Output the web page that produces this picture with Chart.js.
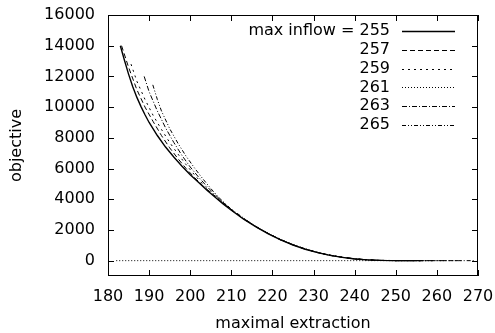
<!DOCTYPE html>
<html>
<head>
<meta charset="utf-8">
<script src="https://cdn.jsdelivr.net/npm/chart.js@4"></script>
<style>
  body { margin: 0; background: #fff; }
  #chart { display: block; }
</style>
</head>
<body>
<canvas id="chart" width="495" height="333"></canvas>
<script>
// data: maximal extraction (x) vs objective (y)
const inflows = [255, 257, 259, 261, 263, 265];

const ext255 = [183, 184, 185, 186, 187, 188, 189, 190, 192, 194, 196, 198, 200, 202, 204, 206, 208, 210, 213, 216, 219, 222, 225, 228, 231, 234, 237, 240, 243, 246, 250, 256];
const obj255 = [14000, 13050, 12150, 11350, 10650, 10050, 9500, 9000, 8150, 7400, 6750, 6150, 5600, 5100, 4600, 4150, 3700, 3280, 2700, 2200, 1750, 1350, 1020, 740, 520, 340, 210, 110, 50, 15, 0, 0];

const ext257 = [183.3, 185, 187, 189, 191, 193, 195, 197, 199, 201, 203, 206, 210, 216, 222, 228, 234, 240, 246, 250, 258];
const obj257 = [14000, 12600, 11150, 10000, 9050, 8150, 7350, 6650, 6000, 5420, 4900, 4200, 3290, 2200, 1350, 740, 340, 110, 15, 0, 0];

const ext259 = [185.6, 187, 189, 191, 193, 195, 197, 199, 201, 203, 205, 208, 213, 219, 225, 231, 237, 243, 250, 260];
const obj259 = [12800, 11700, 10500, 9450, 8550, 7700, 6950, 6250, 5600, 5000, 4450, 3750, 2700, 1750, 1020, 520, 210, 50, 0, 0];

const ext261 = [182, 262];
const obj261 = [0, 0];

const ext263 = [188.8, 190, 192, 194, 196, 198, 200, 202, 204, 206, 209, 213, 219, 225, 231, 237, 243, 250, 266];
const obj263 = [12000, 11000, 9750, 8650, 7700, 6850, 6100, 5450, 4850, 4300, 3550, 2700, 1750, 1020, 520, 210, 50, 0, 0];

const ext265 = [190.9, 192, 193, 195, 197, 199, 201, 203, 205, 207, 210, 216, 222, 228, 234, 240, 246, 250, 269];
const obj265 = [11450, 10500, 9750, 8600, 7650, 6800, 6050, 5350, 4700, 4100, 3350, 2200, 1350, 740, 340, 110, 15, 0, 0];

const xTicks = [180, 190, 200, 210, 220, 230, 240, 250, 260, 270];
const yTicks = [0, 2000, 4000, 6000, 8000, 10000, 12000, 14000, 16000];

const allExt = [ext255, ext257, ext259, ext261, ext263, ext265];
const allObj = [obj255, obj257, obj259, obj261, obj263, obj265];
const dashes = [[], [5, 3], [2, 4], [1, 2], [5, 2, 1, 2], [4, 2, 1, 2, 1, 2]];
const widths = [1.4, 1, 1, 1, 1, 1];

const font = { family: 'DejaVu Sans, sans-serif', size: 16 };

const datasets = inflows.map((v, i) => ({
  label: (i === 0 ? 'max inflow = ' : '') + v,
  data: allExt[i].map((x, j) => ({ x: x, y: allObj[i][j] })),
  showLine: true,
  borderColor: '#000',
  borderWidth: widths[i],
  borderDash: dashes[i],
  pointRadius: 0,
  fill: false,
  tension: 0
}));

// gnuplot style frame with ticks pointing inwards, on all four sides
const framePlugin = {
  id: 'frame',
  afterDraw(chart) {
    const c = chart.ctx;
    const a = chart.chartArea;
    const xs = chart.scales.x, ys = chart.scales.y;
    c.save();
    c.strokeStyle = '#000';
    c.lineWidth = 1;
    c.setLineDash([]);
    c.strokeRect(a.left + 0.5, a.top + 0.5, a.right - a.left - 1, a.bottom - a.top - 1);
    c.beginPath();
    xTicks.forEach(t => {
      const px = Math.round(xs.getPixelForValue(t)) + 0.5;
      c.moveTo(px, a.bottom); c.lineTo(px, a.bottom - 6);
      c.moveTo(px, a.top); c.lineTo(px, a.top + 6);
    });
    yTicks.forEach(t => {
      const py = Math.round(ys.getPixelForValue(t)) + 0.5;
      c.moveTo(a.left, py); c.lineTo(a.left + 6, py);
      c.moveTo(a.right, py); c.lineTo(a.right - 6, py);
    });
    c.stroke();
    c.restore();
  }
};

// key in the top right corner, text right aligned, sample line after it
const keyPlugin = {
  id: 'key',
  afterDraw(chart) {
    const c = chart.ctx;
    const a = chart.chartArea;
    c.save();
    c.font = font.size + 'px ' + font.family;
    c.textAlign = 'right';
    c.textBaseline = 'middle';
    c.fillStyle = '#000';
    chart.data.datasets.forEach((ds, i) => {
      const y = a.top + 16 + i * 18.8;
      c.fillText(ds.label, a.right - 88, y);
      c.beginPath();
      c.strokeStyle = '#000';
      c.lineWidth = ds.borderWidth;
      c.setLineDash(ds.borderDash);
      c.moveTo(a.right - 76, Math.round(y) + 0.5);
      c.lineTo(a.right - 23, Math.round(y) + 0.5);
      c.stroke();
    });
    c.restore();
  }
};

new Chart(document.getElementById('chart'), {
  type: 'scatter',
  data: { datasets: datasets },
  options: {
    responsive: false,
    animation: false,
    devicePixelRatio: 1,
    layout: { padding: { top: 15, right: 17, left: 0, bottom: 0 } },
    plugins: {
      legend: { display: false },
      tooltip: { enabled: false }
    },
    scales: {
      x: {
        type: 'linear',
        min: 180,
        max: 270,
        afterBuildTicks: s => { s.ticks = xTicks.map(v => ({ value: v })); },
        afterFit: s => { s.height = 57; s.paddingLeft = 0; s.paddingRight = 0; },
        grid: { display: false, drawTicks: false },
        border: { display: false },
        ticks: { color: '#000', font: font, padding: 11, maxRotation: 0, callback: v => String(v) },
        title: { display: true, text: 'maximal extraction', color: '#000', font: font, padding: 0 }
      },
      y: {
        type: 'linear',
        min: -1000,
        max: 16000,
        afterBuildTicks: s => { s.ticks = yTicks.map(v => ({ value: v })); },
        afterFit: s => { s.width = 108; s.paddingTop = 0; s.paddingBottom = 0; },
        grid: { display: false, drawTicks: false },
        border: { display: false },
        ticks: { color: '#000', font: font, padding: 13, callback: v => String(v) },
        title: { display: true, text: 'objective', color: '#000', font: font, padding: { top: 7, bottom: 0 } }
      }
    }
  },
  plugins: [framePlugin, keyPlugin]
});
</script>
</body>
</html>
